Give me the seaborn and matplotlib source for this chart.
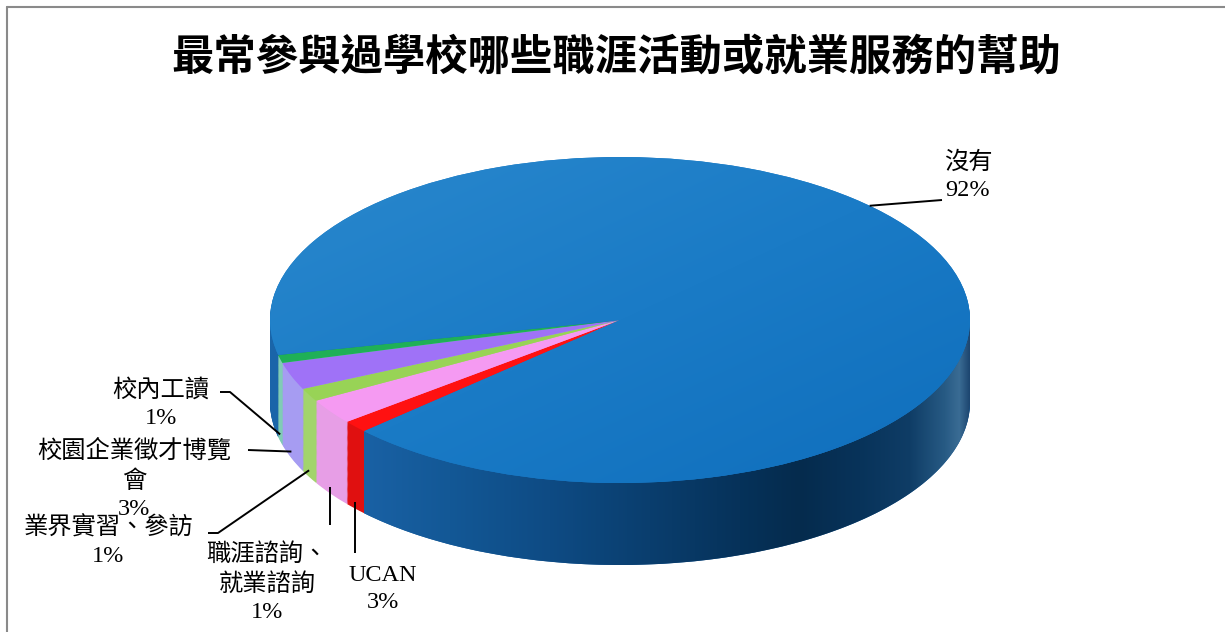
import numpy as np
import matplotlib
matplotlib.use("Agg")
import matplotlib.pyplot as plt
import seaborn as sns
from matplotlib.path import Path
from matplotlib.patches import PathPatch
from matplotlib.colors import to_rgba
from matplotlib.lines import Line2D

# ---------------- data ----------------
title = "最常參與過學校哪些職涯活動或就業服務的幫助"
categories = ["沒有", "UCAN", "職涯諮詢、就業諮詢", "業界實習、參訪", "校園企業徵才博覽會", "校內工讀"]
values = [91.5, 1.2, 2.5, 1.3, 2.7, 0.8]          # slice shares as drawn
pct_labels = ["92%", "3%", "1%", "1%", "3%", "1%"]  # label text as printed
top_colors = ["#1a7bc6", "#ff1111", "#f59af2", "#98d356", "#9f72f7", "#1fb057"]
side_colors = ["#135a9c", "#e01010", "#e79ee6", "#a2d46c", "#a69cf2", "#80ccb6"]

# ---------------- style ----------------
sns.set_style("white")
plt.rcParams["font.family"] = ["Liberation Serif", "Noto Sans CJK TC"]

W, H = 1225, 632
fig = plt.figure(figsize=(W / 100, H / 100), dpi=100)
ax = fig.add_axes([0, 0, 1, 1])

cx, cy, rx, ry = 620, 320, 350, 163      # pixel geometry of the top ellipse
depth = 82 / ry                          # thickness in data units
start = 192.4

# side walls: stacked pies
N = 90
for k in range(N, 0, -1):
    ax.pie(values, colors=side_colors, startangle=start, counterclock=False,
           radius=1, center=(0, -depth * k / N),
           wedgeprops=dict(linewidth=0, zorder=1))

# top surface
wedges, _ = ax.pie(values, colors=top_colors, startangle=start, counterclock=False,
                   radius=1, center=(0, 0), wedgeprops=dict(linewidth=0, zorder=3))

ax.set_xlim(-cx / rx, (W - cx) / rx)
ax.set_ylim((cy - H) / ry, cy / ry)
ax.set_aspect("auto")
ax.axis("off")

# ---- shading of blue side wall ----
th = np.linspace(np.pi, 2 * np.pi, 300)
top_arc = np.c_[np.cos(th), np.sin(th)]
bot_arc = np.c_[np.cos(th[::-1]), np.sin(th[::-1]) - depth]
verts = np.vstack([top_arc, bot_arc, top_arc[:1]])
band = PathPatch(Path(verts, closed=True), facecolor="none", edgecolor="none",
                 transform=ax.transData)
ax.add_patch(band)

keys_x = np.array([-1.0, -0.757, -0.486, -0.2, 0.086, 0.343, 0.514, 0.686, 0.829, 0.929, 0.971, 1.0])
keys_c = ["#1b66aa", "#1a62a6", "#135896", "#0e4b84", "#0a3e6e", "#06325a", "#052b4d",
          "#08335a", "#0f3d66", "#275a84", "#3a6c94", "#1d4670"]
keys_rgb = np.array([to_rgba(c) for c in keys_c])
xs = np.linspace(-1, 1, 1400)
img = np.zeros((1, xs.size, 4))
for ch in range(3):
    img[0, :, ch] = np.interp(xs, keys_x, keys_rgb[:, ch])
blue = wedges[0]
x_end = np.cos(np.radians(blue.theta1))
x_beg = np.cos(np.radians(blue.theta2))
img[0, :, 3] = ((xs > x_end) | (xs < x_beg)).astype(float)
im = ax.imshow(img, extent=[-1, 1, -1 - depth, 0], aspect="auto",
               interpolation="nearest", zorder=2)
im.set_clip_path(band)

# ---- subtle gradient on the blue top ----
gx, gy = np.meshgrid(np.linspace(-1, 1, 300), np.linspace(-1, 1, 300))
t = np.clip((gx - gy + 2) / 4, 0, 1)
c0, c1, c2 = [np.array(to_rgba(c)) for c in ("#2a88cd", "#1a7bc6", "#0f6ebc")]
timg = np.zeros(gx.shape + (4,))
for ch in range(4):
    timg[..., ch] = np.where(t < 0.5, c0[ch] + (c1[ch] - c0[ch]) * t / 0.5,
                             c1[ch] + (c2[ch] - c1[ch]) * (t - 0.5) / 0.5)
tim = ax.imshow(timg, extent=[-1, 1, -1, 1], origin="lower", aspect="auto",
                interpolation="bilinear", zorder=3.5)
tim.set_clip_path(blue)

ax.set_xlim(-cx / rx, (W - cx) / rx)
ax.set_ylim((cy - H) / ry, cy / ry)

# ---------------- labels ----------------
def fx(x):
    return x / W

def fy(y):
    return 1 - y / H

wrap = {"職涯諮詢、就業諮詢": "職涯諮詢、\n就業諮詢", "校園企業徵才博覽會": "校園企業徵才博覽\n會"}
label_pos = [(968, 176), (383, 589), (267, 583), (108, 542), (134, 480), (161, 404)]
# anchor: fraction within wedge angle, fraction of depth
anchor_spec = [(0.551, 0.0), (0.5, 0.92), (0.5, 0.92), (0.5, 0.92), (0.5, 0.92), (0.5, 0.92)]
# leader line path from text to anchor (pixel points); "vNNN" -> vertical from y=NNN
leader = [
    [(942, 200)],
    "v553",
    "v525",
    [(208, 533), (218, 533)],
    [(248, 450)],
    [(220, 392), (230, 392)],
]

for i, cat in enumerate(categories):
    txt = wrap.get(cat, cat) + "\n" + pct_labels[i]
    x, y = label_pos[i]
    fig.text(fx(x), fy(y), txt, ha="center", va="center", fontsize=17.5,
             linespacing=1.4, color="black")
    w = wedges[i]
    fr, df = anchor_spec[i]
    ang = np.radians(w.theta1 + fr * (w.theta2 - w.theta1))
    ax_pt = (np.cos(ang), np.sin(ang) - depth * df)
    disp = ax.transData.transform(ax_pt)
    apx, apy = disp[0], H - disp[1]
    spec = leader[i]
    if isinstance(spec, str):
        pts = [(apx, float(spec[1:]))]
    else:
        pts = list(spec)
    pts.append((apx, apy))
    fig.add_artist(Line2D([fx(p[0]) for p in pts], [fy(p[1]) for p in pts],
                          transform=fig.transFigure, color="black", lw=1.4,
                          solid_capstyle="butt"))

# ---------------- title ----------------
fig.text(fx(616), fy(58), title, ha="center", va="center", fontsize=30.5,
         fontweight="bold", family=["Noto Sans CJK TC"], color="black")

# ---------------- chart border ----------------
fig.add_artist(Line2D([fx(7), fx(7)], [fy(7), fy(H + 5)], transform=fig.transFigure,
                      color="#8a8a8a", lw=1.5))
fig.add_artist(Line2D([fx(7), fx(W + 5)], [fy(7), fy(7)], transform=fig.transFigure,
                      color="#8a8a8a", lw=1.5))

fig.savefig("out.png", dpi=100)
